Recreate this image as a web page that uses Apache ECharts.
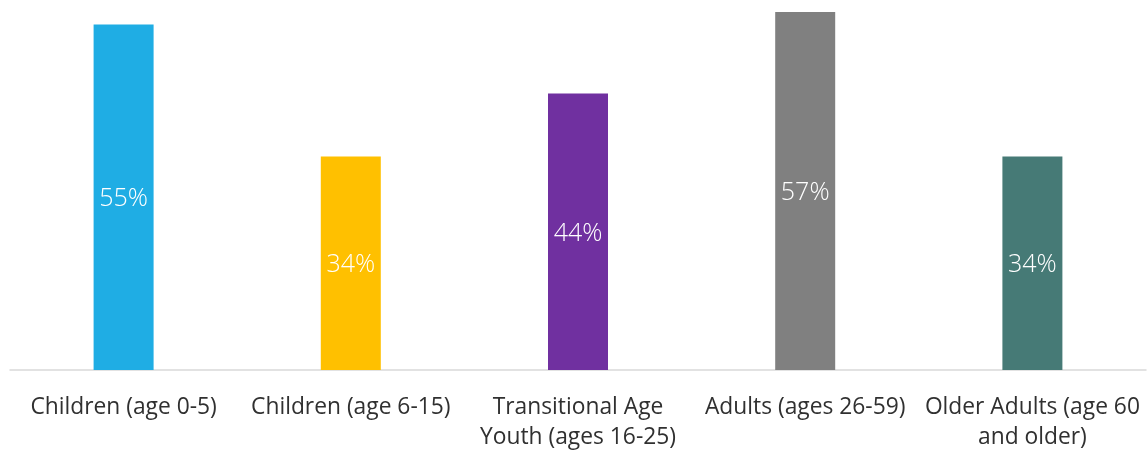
<!DOCTYPE html>
<html><head><meta charset="utf-8">
<script src="https://cdn.jsdelivr.net/npm/echarts@6/dist/echarts.min.js"></script>
<style>html,body{margin:0;padding:0;background:#fff}#c{width:1148px;height:451px}</style>
</head><body><div id="c"></div>
<script>
const categories = ["Children (age 0-5)", "Children (age 6-15)", "Transitional Age\nYouth (ages 16-25)", "Adults (ages 26-59)", "Older Adults (age 60\nand older)"];
const values = [55, 34, 44, 57, 34];
const colors = ["#1FADE4", "#FFC000", "#7030A0", "#808080", "#467A76"];

const chart = echarts.init(document.getElementById('c'));
chart.setOption({
  animation: false,
  grid: {left: 10, right: 2, top: 0, bottom: 81, containLabel: false, outerBoundsMode: 'none'},
  xAxis: {
    type: 'category', data: categories,
    axisLine: {lineStyle: {color: '#d9d9d9', width: 1.5}},
    axisTick: {show: false},
    axisLabel: {interval: 0, color: '#303030', fontFamily: 'Open Sans', fontSize: 22.8, lineHeight: 30, margin: 23, align: 'center'}
  },
  yAxis: {type: 'value', min: 0, max: 58.9, show: false, splitLine: {show: false}},
  series: [{
    type: 'bar', barWidth: 60,
    data: values.map((v, i) => ({value: v, itemStyle: {color: colors[i]}})),
    label: {show: true, position: 'inside', offset: [0, 2], color: '#fff', fontFamily: 'Open Sans', fontWeight: 300, fontSize: 25, formatter: p => p.value + '%'}
  }]
});
</script></body></html>
